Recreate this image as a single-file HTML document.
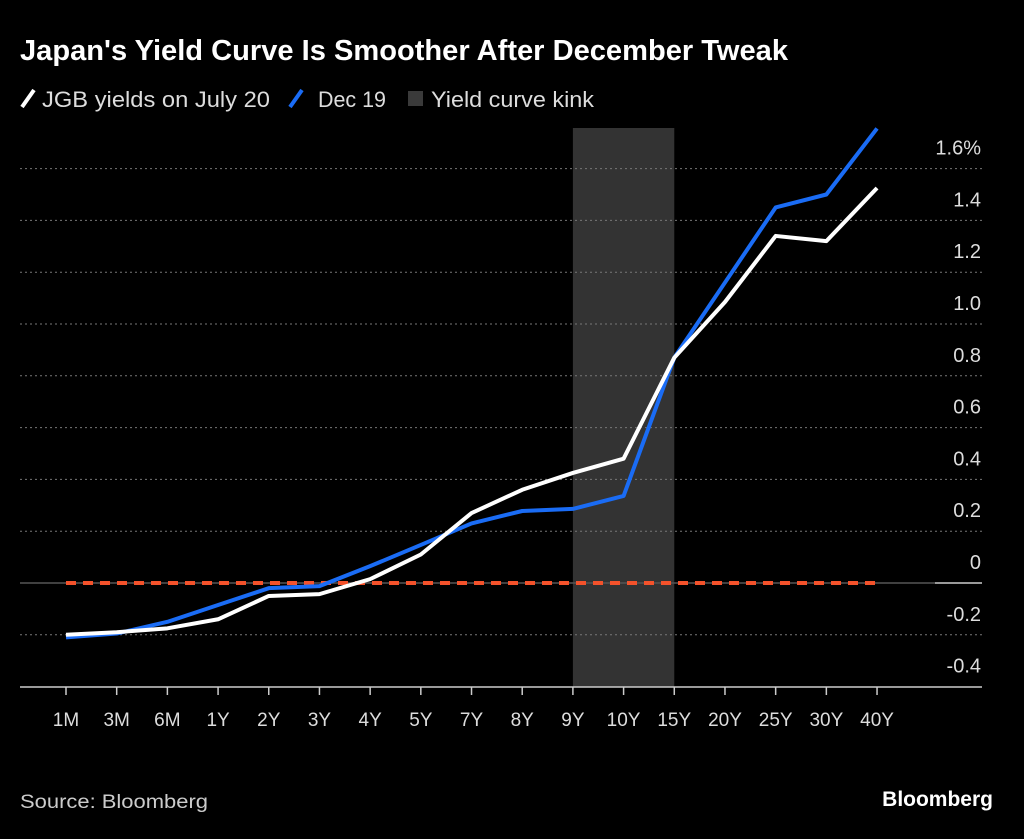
<!DOCTYPE html>
<html><head><meta charset="utf-8"><style>
body{margin:0;background:#000;width:1024px;height:834px;overflow:hidden;font-family:"Liberation Sans",sans-serif}
</style></head><body>
<svg width="1024" height="834">
<text x="20" y="60" fill="#fff" font-size="29" font-weight="bold" textLength="768" lengthAdjust="spacingAndGlyphs">Japan's Yield Curve Is Smoother After December Tweak</text>
<g font-size="22" fill="#ddd">
<line x1="22" y1="107" x2="34" y2="90" stroke="#fff" stroke-width="4"/>
<text x="42" y="107" textLength="228" lengthAdjust="spacingAndGlyphs">JGB yields on July 20</text>
<line x1="290" y1="107" x2="302" y2="90" stroke="#1a6cf5" stroke-width="4"/>
<text x="318" y="107" textLength="68" lengthAdjust="spacingAndGlyphs">Dec 19</text>
<rect x="408" y="91" width="15" height="15" fill="#3a3a3a"/>
<text x="431" y="107" textLength="163" lengthAdjust="spacingAndGlyphs">Yield curve kink</text>
</g>
<g id="plot"></g>
<text x="20" y="808" fill="#ccc" font-size="19" textLength="188" lengthAdjust="spacingAndGlyphs">Source: Bloomberg</text>
<text x="993" y="806" fill="#fff" font-size="21" font-weight="bold" text-anchor="end">Bloomberg</text>
</svg>
<script>
const categories=["1M","3M","6M","1Y","2Y","3Y","4Y","5Y","7Y","8Y","9Y","10Y","15Y","20Y","25Y","30Y","40Y"];
const july=[-0.2,-0.19,-0.175,-0.14,-0.05,-0.043,0.015,0.11,0.27,0.36,0.425,0.48,0.87,1.085,1.34,1.32,1.525];
const dec=[-0.21,-0.195,-0.15,-0.085,-0.02,-0.012,0.065,0.147,0.23,0.278,0.286,0.336,0.87,1.16,1.45,1.5,1.755];
const yTicks=[1.6,1.4,1.2,1.0,0.8,0.6,0.4,0.2,0,-0.2,-0.4];
const yTickLabels=["1.6%","1.4","1.2","1.0","0.8","0.6","0.4","0.2","0","-0.2","-0.4"];
const kinkStart="9Y",kinkEnd="15Y";
const NS="http://www.w3.org/2000/svg";
const g=document.getElementById('plot');
const X=i=>66+i*50.69;
const Y=v=>583-v*259;
function mk(t,a){const e=document.createElementNS(NS,t);for(const k in a)e.setAttribute(k,a[k]);g.appendChild(e);return e;}
let r=mk('rect',{x:X(categories.indexOf(kinkStart)),y:128,width:X(categories.indexOf(kinkEnd))-X(categories.indexOf(kinkStart)),height:687-128,fill:'#333'});


yTicks.forEach((v,i)=>{
  const y=Y(v);
  if(v!==0&&y<680){const l=mk('line',{x1:20,x2:982,y1:y,y2:y,stroke:'#777','stroke-dasharray':'2,3','stroke-width':1});
  
  }
  const t=mk('text',{x:981,y:y-14,fill:'#ddd','font-size':20,'text-anchor':'end'});
  t.textContent=yTickLabels[i];
  
  
});
let z=mk('line',{x1:20,x2:935,y1:Y(0),y2:Y(0),stroke:'#555','stroke-width':1.5});


z=mk('line',{x1:935,x2:982,y1:Y(0),y2:Y(0),stroke:'#ccc','stroke-width':1.5});


let ax=mk('line',{x1:20,x2:982,y1:687,y2:687,stroke:'#ccc','stroke-width':1.5});


categories.forEach((c,i)=>{
  const tk=mk('line',{x1:X(i),x2:X(i),y1:687,y2:695,stroke:'#ccc','stroke-width':1.5});
  
  
  const t=mk('text',{x:X(i),y:726,fill:'#ddd','font-size':19,'text-anchor':'middle'});
  t.textContent=c;
  
  
});
let d=mk('line',{x1:X(0),x2:X(categories.length-1),y1:Y(0),y2:Y(0),stroke:'#f4522b','stroke-width':4,'stroke-dasharray':'10,7'});


function line(vals,col,name){
  const p=mk('polyline',{points:vals.map((v,i)=>X(i)+','+Y(v)).join(' '),fill:'none',stroke:col,'stroke-width':4,'stroke-linejoin':'round'});
  
  
}
line(dec,'#1a6cf5','series-dec-19');
line(july,'#fff','series-july-20');
</script>
</body></html>
